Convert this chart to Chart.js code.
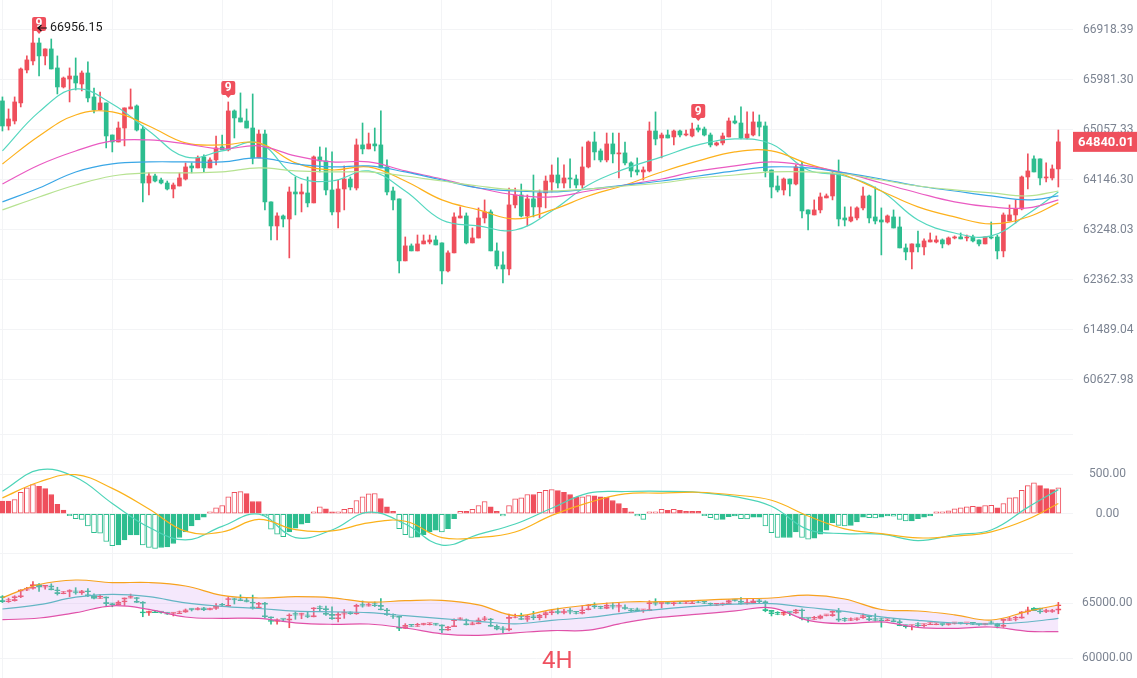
<!DOCTYPE html>
<html>
<head>
<meta charset="utf-8">
<script src="https://cdn.jsdelivr.net/npm/chart.js@4.4.1/dist/chart.umd.min.js"></script>
<style>
  html, body { margin: 0; padding: 0; background: #fff; }
  #wrap { position: relative; width: 1137px; height: 678px; overflow: hidden; }
  #wrap canvas { position: absolute; left: 0; }
  #tf { position: absolute; left: 542px; top: 646px; font: 24px Roboto, sans-serif; color: #ef5160; }
</style>
</head>
<body>
<div id="wrap">
  <canvas id="main" width="1137" height="432" style="top:0"></canvas>
  <canvas id="macd" width="1137" height="123" style="top:432px"></canvas>
  <canvas id="boll" width="1137" height="123" style="top:555px"></canvas>
  <div id="tf">4H</div>
</div>
<script>
// candles (4H)
var opens = [
  65593,65131,65223,65556,66168,66337,66674,66431,66562,66206,
  65852,66000,66056,65907,66112,65667,65427,65556,64966,64838,
  65094,65445,65500,65075,64092,64219,64146,64092,63984,64038,
  64164,64401,64365,64565,64365,64510,64747,64693,65408,65279,
  65223,65094,64547,64984,63751,63320,63499,63445,63930,63894,
  63912,63733,64565,64492,63966,63571,63984,64164,64002,64784,
  64711,64802,64784,64383,63948,63805,62699,62965,62876,63000,
  63035,63071,63018,62522,62841,63463,63499,63018,63106,63463,
  63571,62876,62628,62557,63697,63876,63499,63805,63661,63912,
  64110,64237,64092,64183,64164,64056,64383,64838,64674,64510,
  64802,64620,64638,64456,64328,64292,64310,65039,64911,64966,
  64930,65039,64966,64948,65094,65075,64966,64784,64820,64930,
  65223,65186,64911,64966,65205,65131,64328,64038,63966,64164,
  64074,64383,63607,63517,63607,63823,63858,64255,63463,63409,
  63463,63643,63858,63481,63427,63391,63481,63302,62929,62858,
  63000,62947,63035,63035,63071,63000,63106,63124,63106,63124,
  63071,63000,63124,63124,62876,63409,63517,63625,64201,64529,
  64529,64183,64183,64347
];
var highs = [
  65667,65445,65667,66206,66431,66956.15,66768,66562,66749,66431,
  66037,66206,66393,66150,66318,65833,65759,65556,64966,65205,
  65464,65815,65519,65131,64274,64255,64183,64128,64092,64274,
  64456,64456,64583,64602,64547,64948,64966,65574,65427,65741,
  65445,65722,65057,65057,63751,63553,63517,64020,64201,64074,
  64201,64583,64747,64729,64656,64146,64401,64201,64893,65186,
  65002,65094,65408,64510,64020,63805,63124,63000,63159,63159,
  63159,63142,63018,62876,63553,63661,63553,63284,63643,63787,
  63607,63018,62858,64002,64002,64074,63876,64237,63966,64219,
  64419,64547,64419,64529,64237,64747,64857,65021,64711,65002,
  65002,65002,64838,64474,64547,64383,65205,65390,65002,65057,
  65057,65057,65057,65186,65149,65112,65002,64838,65002,65279,
  65316,65482,65390,65390,65334,65205,64328,64219,64183,64164,
  64419,64474,63607,63787,63912,63894,64292,64510,63661,63661,
  63661,64020,63876,64020,63643,63517,63607,63481,63000,63000,
  63230,63089,63195,63142,63089,63124,63142,63195,63159,63159,
  63071,63124,63391,63159,63553,63697,63787,64219,64620,64583,
  64529,64456,64419,65057
];
var lows = [
  65039,65057,65168,65482,66112,66262,66056,66262,66187,65722,
  65833,65574,65796,65778,65574,65371,65427,64729,64656,64838,
  64766,65445,65039,63751,63876,64110,64074,63966,63823,64038,
  64146,64274,64365,64292,64365,64419,64693,64674,64911,65205,
  65094,64438,64547,63607,63071,63071,63302,62752,63517,63571,
  63661,63733,64292,63876,63517,63284,63607,63966,63966,64620,
  64711,64674,64365,63876,63607,62486,62699,62876,62876,63000,
  63000,62982,62292,62504,62841,63463,63000,63018,63106,63373,
  62876,62557,62310,62451,63643,63481,63320,63481,63463,63643,
  63930,64002,64002,64002,64002,64002,64365,64510,64474,64474,
  64456,64183,64419,64201,64237,64146,64292,64784,64547,64911,
  64784,64930,64948,64930,65021,64948,64747,64766,64784,64930,
  65168,64893,64893,64948,64948,64201,63823,63930,63876,63858,
  64056,63463,63248,63517,63553,63823,63787,63320,63320,63391,
  63427,63607,63373,63356,62805,63373,63284,62929,62717,62557,
  62858,62805,63035,63018,62929,62982,63089,63089,63053,63035,
  62965,63000,63089,62734,62770,63409,63373,63607,63984,64292,
  64056,64110,64146,64020
];
var closes = [
  65131,65260,65574,66187,66356,66674,66431,66562,66187,65852,
  66018,66056,65926,66112,65648,65427,65556,64948,64838,65094,
  65464,65482,65057,64092,64219,64128,64092,63984,64056,64183,
  64383,64365,64547,64365,64510,64729,64693,65408,65279,65205,
  65094,64547,64984,63751,63320,63499,63445,63930,63894,63930,
  63733,64565,64492,63966,63571,63984,64164,64020,64784,64711,
  64802,64766,64365,63930,63787,62699,62965,62876,63000,63053,
  63071,62982,62522,62841,63481,63499,63018,63106,63463,63571,
  62876,62610,62557,63697,63876,63499,63805,63661,63912,64128,
  64237,64092,64183,64164,64056,64383,64838,64656,64510,64802,
  64620,64638,64456,64310,64292,64328,65039,64893,64966,64911,
  65039,64966,64984,65075,65057,64966,64784,64820,64948,65223,
  65186,64911,64984,65205,65112,64310,64020,63966,64164,64074,
  64383,63589,63535,63607,63840,63858,64255,63445,63427,63481,
  63643,63858,63463,63409,63391,63499,63284,62929,62858,63000,
  62947,63053,63071,63071,63000,63106,63124,63089,63124,63053,
  63000,63124,63106,62876,63517,63517,63625,64201,64310,64292,
  64183,64201,64347,64840.01
];

// moving averages, read every 6th candle
var lineIdx = [0,6,12,18,24,30,36,42,48,54,60,66,72,78,84,90,96,102,108,114,120,126,132,138,144,150,156,162,168,173];
var maTeal  = [64674,65390,65815,65537,65039,64565,64674,64820,64219,64128,64310,63948,63427,63320,63248,63589,64056,64347,64565,64784,64893,64802,64328,64219,63948,63427,63195,63142,63535,63930];
var maOrange= [64438,64948,65334,65390,65131,64820,64784,64820,64456,64328,64383,64128,63787,63607,63445,63607,63858,64056,64292,64492,64656,64674,64438,64237,63948,63661,63481,63356,63481,63733];
var maPink  = [64074,64419,64674,64857,64875,64802,64711,64766,64583,64474,64474,64310,64164,64002,63876,63840,63948,64056,64164,64310,64401,64474,64401,64274,64092,63912,63751,63661,63643,63787];
var maBlue  = [63751,64002,64292,64438,64474,64474,64474,64547,64438,64383,64401,64292,64146,64002,63948,63930,63984,64056,64128,64219,64310,64383,64365,64274,64164,64038,63948,63858,63787,63858];
var maLime  = [63607,63840,64056,64219,64274,64274,64292,64365,64310,64292,64292,64219,64128,64038,63966,63948,63984,64038,64092,64183,64237,64292,64292,64255,64146,64038,63966,63912,63858,63948];

var priceTicks = [66918.39, 65981.30, 65057.33, 64146.30, 63248.03, 62362.33, 61489.04, 60627.98];
var nineMarks = [6, 37, 114];

// MACD
var macdHist = [
  158,158,179,271,325,367,346,317,242,117,46,-21,-63,-71,-154,-238,-246,-350,-404,-392,
  -329,-267,-267,-392,-425,-438,-425,-417,-375,-300,-229,-154,-79,-42,21,75,104,213,271,279,
  254,154,154,-29,-196,-258,-288,-229,-183,-133,-113,25,88,63,8,21,54,67,167,213,
  250,255,192,88,29,-188,-263,-300,-296,-263,-229,-208,-229,-188,-63,29,29,54,104,154,
  88,29,-29,104,188,200,242,242,271,296,304,292,271,242,208,212,229,226,213,208,
  167,129,67,12,-29,-71,12,25,54,42,54,42,29,29,29,-12,-50,-71,-71,-38,
  -29,-63,-65,-42,-42,-154,-238,-300,-300,-300,-229,-300,-321,-308,-258,-208,-113,-146,-154,-146,
  -104,-42,-50,-52,-42,-29,-31,-71,-92,-92,-63,-42,-29,12,21,38,63,75,88,92,
  88,104,106,75,129,200,204,296,354,388,354,317,304,325
];
var macdDif = [283,552,460,130,-170,-330,-160,-5,-300,-205,20,-130,-395,-260,-130,70,260,280,283,270,215,95,-200,-250,-258,-338,-265,-205,80,304];
var macdDea = [200,400,492,320,60,-220,-230,-72,-200,-217,-115,-95,-300,-300,-230,-20,140,250,260,271,236,170,-28,-190,-250,-305,-282,-228,-70,129];
var macdTicks = [-500, 0, 500, 1000];

// Bollinger
var bollUp  = [65491,66682,67091,66854,66863,66545,65691,65455,65573,65473,65082,65209,65245,64827,63855,64400,64818,65091,65118,65236,65382,65455,65718,65364,64409,64273,63927,63455,64246,64818];
var bollMid = [64455,64845,65527,65791,65573,65009,64700,64500,64264,64200,64118,63855,63582,63337,63109,63418,63682,64100,64436,64709,64891,64936,64591,64246,63736,63418,63182,63091,63273,63609];
var bollLow = [63482,63636,64118,64745,64427,63727,63609,63600,63200,63064,63091,62727,62200,62064,62291,62491,62527,63209,63709,63982,64282,64564,63427,63127,63282,62782,62700,62818,62427,62391];
var bollTicks = [60000, 65000];

var RED = '#ef4f5c', GREEN = '#2dbd8f';
var GRID = '#f3f4f6', LABEL = '#7c8492';
var candleColor = closes.map(function(c, i) { return c >= opens[i] ? RED : GREEN; });

function pts(arr) { return arr.map(function(v, k) { return { x: lineIdx[k], y: v }; }); }
function line(arr, color, w) {
  return { type: 'line', data: pts(arr), borderColor: color, borderWidth: w || 1.2,
    pointRadius: 0, tension: 0.4, fill: false, order: 0 };
}

function xAxis() {
  return {
    type: 'linear', min: -0.4, max: 175.4, bounds: 'data', offset: false,
    ticks: { display: false }, border: { display: false },
    grid: { color: GRID, drawTicks: false, offset: false },
    afterBuildTicks: function(s) {
      var t = [];
      for (var v = 0; v < closes.length; v += 18) t.push({ value: v });
      s.ticks = t;
    }
  };
}
function yAxis(extra) {
  var ax = {
    position: 'right', bounds: 'data',
    border: { display: false },
    grid: { color: GRID, drawTicks: false },
    afterFit: function(s) { s.width = 64; s.paddingTop = 0; s.paddingBottom = 0; },
    ticks: { color: LABEL, crossAlign: 'center', autoSkip: false, font: { family: 'Roboto', size: 12 } }
  };
  for (var k in extra) {
    if (k === 'ticks') Object.assign(ax.ticks, extra.ticks); else ax[k] = extra[k];
  }
  return ax;
}
var base = {
  responsive: false, animation: false, events: [],
  layout: { padding: 0 },
  plugins: { legend: { display: false }, tooltip: { enabled: false } }
};

// main overlay: "9" marks, max price, last price tag
var overlay = {
  id: 'overlay',
  afterDatasetsDraw: function(chart) {
    var ctx = chart.ctx, xs = chart.scales.x, ys = chart.scales.y, area = chart.chartArea;
    ctx.save();
    nineMarks.forEach(function(i) {
      var cx = xs.getPixelForValue(i), tip = ys.getPixelForValue(highs[i]) - 4;
      ctx.fillStyle = RED;
      ctx.beginPath();
      ctx.roundRect(cx - 7, tip - 17, 14, 14, 2);
      ctx.fill();
      ctx.beginPath();
      ctx.moveTo(cx - 3, tip - 3.5); ctx.lineTo(cx + 3, tip - 3.5); ctx.lineTo(cx, tip);
      ctx.fill();
      ctx.fillStyle = '#fff';
      ctx.font = 'bold 12px Roboto';
      ctx.textAlign = 'center'; ctx.textBaseline = 'middle';
      ctx.fillText('9', cx, tip - 9.5);
    });
    var hi = Math.max.apply(null, highs), hiIdx = highs.indexOf(hi);
    var hx = xs.getPixelForValue(hiIdx), hy = ys.getPixelForValue(hi);
    ctx.strokeStyle = '#111'; ctx.lineWidth = 1.2;
    ctx.beginPath();
    ctx.moveTo(hx + 14, hy); ctx.lineTo(hx + 5, hy);
    ctx.moveTo(hx + 8.5, hy - 3); ctx.lineTo(hx + 5, hy); ctx.lineTo(hx + 8.5, hy + 3);
    ctx.stroke();
    ctx.fillStyle = '#1b1b1b'; ctx.font = '12.5px Roboto';
    ctx.textAlign = 'left'; ctx.textBaseline = 'middle';
    ctx.fillText(hi.toFixed(2), hx + 17, hy);
    var last = closes[closes.length - 1], py = ys.getPixelForValue(last);
    ctx.fillStyle = RED;
    ctx.fillRect(area.right, py - 10, chart.width - area.right, 20);
    ctx.fillStyle = '#fff'; ctx.font = 'bold 13px Roboto'; ctx.textAlign = 'center';
    ctx.fillText(last.toFixed(2), area.right + (chart.width - area.right) / 2 + 1, py + 0.5);
    ctx.restore();
  }
};

new Chart(document.getElementById('main'), {
  type: 'bar',
  data: {
    datasets: [
      { data: lows.map(function(l, i) { return { x: i, y: [l, highs[i]] }; }),
        backgroundColor: candleColor, barThickness: 1, grouped: false, minBarLength: 1, order: 2 },
      { data: opens.map(function(o, i) { return { x: i, y: [o, closes[i]] }; }),
        backgroundColor: candleColor, barThickness: 4, grouped: false, minBarLength: 1, order: 1 },
      line(maLime, '#b6e291'),
      line(maBlue, '#3aa7e6'),
      line(maPink, '#ea5bc2'),
      line(maOrange, '#fdb11c'),
      line(maTeal, '#55d7bf')
    ]
  },
  options: Object.assign({}, base, {
    scales: {
      x: xAxis(),
      y: yAxis({ type: 'logarithmic', min: 59745, max: 67487,
        afterBuildTicks: function(s) { s.ticks = priceTicks.map(function(v) { return { value: v }; }); },
        ticks: { padding: 10, callback: function(v) { return Number(v).toFixed(2); } } })
    }
  }),
  plugins: [overlay]
});

var histColor = macdHist.map(function(v) { return v >= 0 ? RED : GREEN; });
var histFill = macdHist.map(function(v, i) {
  var prev = i > 0 ? macdHist[i - 1] : v;
  var hollow = v >= 0 ? v > prev : v < prev;
  return hollow ? '#ffffff' : histColor[i];
});

new Chart(document.getElementById('macd'), {
  type: 'bar',
  data: {
    datasets: [
      { data: macdHist.map(function(v, i) { return { x: i, y: v }; }),
        backgroundColor: histFill, borderColor: histColor, borderWidth: 1, borderSkipped: false,
        barThickness: 5, minBarLength: 2, grouped: false, order: 1 },
      line(macdDea, '#fbb21b'),
      line(macdDif, '#4dd4b8')
    ]
  },
  options: Object.assign({}, base, {
    scales: {
      x: xAxis(),
      y: yAxis({ type: 'linear', min: -520, max: 1030,
        afterBuildTicks: function(s) { s.ticks = macdTicks.map(function(v) { return { value: v }; }); },
        ticks: { padding: 16, callback: function(v) { return (v === 0 || v === 500) ? v.toFixed(2) : ''; } } })
    }
  })
});

new Chart(document.getElementById('boll'), {
  type: 'bar',
  data: {
    datasets: [
      { data: lows.map(function(l, i) { return { x: i, y: [l, highs[i]] }; }),
        backgroundColor: candleColor, barThickness: 1, grouped: false, minBarLength: 1, order: 2 },
      { data: opens.map(function(o, i) { return { x: i, y: [o, closes[i]] }; }),
        backgroundColor: 'rgba(0,0,0,0)', borderColor: candleColor,
        borderWidth: { top: 1, bottom: 1, left: 0, right: 0 }, borderSkipped: false,
        barThickness: 6, grouped: false, minBarLength: 2, order: 1 },
      Object.assign(line(bollUp, '#f7a21e'), { fill: '+2', backgroundColor: 'rgba(215,160,242,0.24)' }),
      line(bollMid, '#41bdb6'),
      line(bollLow, '#e2489f')
    ]
  },
  options: Object.assign({}, base, {
    scales: {
      x: xAxis(),
      y: yAxis({ type: 'linear', min: 58182, max: 69364,
        afterBuildTicks: function(s) { s.ticks = bollTicks.map(function(v) { return { value: v }; }); },
        ticks: { padding: 9, callback: function(v) { return v.toFixed(2); } } })
    }
  })
});
</script>
</body>
</html>
